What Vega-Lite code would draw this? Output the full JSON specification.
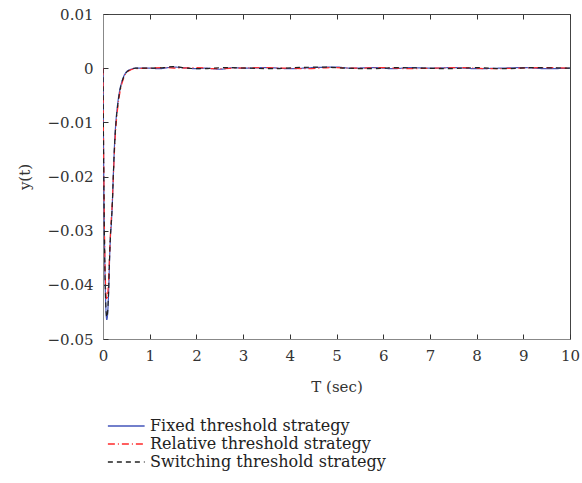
{
  "$schema": "https://vega.github.io/schema/vega-lite/v6.json",
  "autosize": {"type": "none"},
  "padding": {"left": 103, "top": 14, "right": 12, "bottom": 144},
  "width": 467,
  "height": 325,
  "background": "white",
  "config": {
    "font": "DejaVu Serif",
    "view": {"stroke": "#444", "strokeWidth": 1},
    "axis": {
      "labelFont": "DejaVu Serif",
      "titleFont": "DejaVu Serif",
      "labelFontSize": 15,
      "titleFontSize": 15,
      "labelColor": "#333",
      "titleColor": "#333",
      "titleFontWeight": "normal",
      "domainColor": "#888",
      "tickColor": "#333",
      "grid": false
    },
    "legend": {
      "labelFont": "DejaVu Serif", "labelFontSize": 16, "labelColor": "#222", "labelLimit": 500
    }
  },
  "datasets": {
    "series": [
      {"t": 0, "y": 0, "s": "Fixed threshold strategy"},
      {"t": 0.01, "y": -0.013, "s": "Fixed threshold strategy"},
      {"t": 0.02, "y": -0.023, "s": "Fixed threshold strategy"},
      {"t": 0.03, "y": -0.031, "s": "Fixed threshold strategy"},
      {"t": 0.04, "y": -0.037, "s": "Fixed threshold strategy"},
      {"t": 0.05, "y": -0.041, "s": "Fixed threshold strategy"},
      {"t": 0.06, "y": -0.044, "s": "Fixed threshold strategy"},
      {"t": 0.07, "y": -0.0457, "s": "Fixed threshold strategy"},
      {"t": 0.08, "y": -0.0464, "s": "Fixed threshold strategy"},
      {"t": 0.09, "y": -0.0462, "s": "Fixed threshold strategy"},
      {"t": 0.1, "y": -0.0452, "s": "Fixed threshold strategy"},
      {"t": 0.12, "y": -0.0415, "s": "Fixed threshold strategy"},
      {"t": 0.14, "y": -0.0355, "s": "Fixed threshold strategy"},
      {"t": 0.16, "y": -0.031, "s": "Fixed threshold strategy"},
      {"t": 0.18, "y": -0.0285, "s": "Fixed threshold strategy"},
      {"t": 0.2, "y": -0.025, "s": "Fixed threshold strategy"},
      {"t": 0.22, "y": -0.02, "s": "Fixed threshold strategy"},
      {"t": 0.25, "y": -0.0135, "s": "Fixed threshold strategy"},
      {"t": 0.28, "y": -0.0095, "s": "Fixed threshold strategy"},
      {"t": 0.32, "y": -0.0062, "s": "Fixed threshold strategy"},
      {"t": 0.36, "y": -0.004, "s": "Fixed threshold strategy"},
      {"t": 0.4, "y": -0.0026, "s": "Fixed threshold strategy"},
      {"t": 0.45, "y": -0.0014, "s": "Fixed threshold strategy"},
      {"t": 0.5, "y": -0.0007, "s": "Fixed threshold strategy"},
      {"t": 0.6, "y": -0.0002, "s": "Fixed threshold strategy"},
      {"t": 0.7, "y": 0, "s": "Fixed threshold strategy"},
      {"t": 1.0, "y": 0, "s": "Fixed threshold strategy"},
      {"t": 1.2, "y": -0.0001, "s": "Fixed threshold strategy"},
      {"t": 1.5, "y": 0.0002, "s": "Fixed threshold strategy"},
      {"t": 1.7, "y": 0.0001, "s": "Fixed threshold strategy"},
      {"t": 2.0, "y": -0.0001, "s": "Fixed threshold strategy"},
      {"t": 2.2, "y": 0, "s": "Fixed threshold strategy"},
      {"t": 2.5, "y": -0.0002, "s": "Fixed threshold strategy"},
      {"t": 2.8, "y": 0.0001, "s": "Fixed threshold strategy"},
      {"t": 3.0, "y": 0, "s": "Fixed threshold strategy"},
      {"t": 3.5, "y": 0.0001, "s": "Fixed threshold strategy"},
      {"t": 4.0, "y": -0.0001, "s": "Fixed threshold strategy"},
      {"t": 4.5, "y": 0.0001, "s": "Fixed threshold strategy"},
      {"t": 5.0, "y": 0.0002, "s": "Fixed threshold strategy"},
      {"t": 5.3, "y": 0, "s": "Fixed threshold strategy"},
      {"t": 5.8, "y": 0.0001, "s": "Fixed threshold strategy"},
      {"t": 6.2, "y": -0.0001, "s": "Fixed threshold strategy"},
      {"t": 6.6, "y": 0.0001, "s": "Fixed threshold strategy"},
      {"t": 7.0, "y": 0, "s": "Fixed threshold strategy"},
      {"t": 7.5, "y": 0.0001, "s": "Fixed threshold strategy"},
      {"t": 8.0, "y": -0.0001, "s": "Fixed threshold strategy"},
      {"t": 8.5, "y": 0, "s": "Fixed threshold strategy"},
      {"t": 9.0, "y": 0.0001, "s": "Fixed threshold strategy"},
      {"t": 9.5, "y": -0.0001, "s": "Fixed threshold strategy"},
      {"t": 10, "y": 0, "s": "Fixed threshold strategy"},

      {"t": 0, "y": 0, "s": "Relative threshold strategy"},
      {"t": 0.01, "y": -0.012, "s": "Relative threshold strategy"},
      {"t": 0.02, "y": -0.021, "s": "Relative threshold strategy"},
      {"t": 0.03, "y": -0.029, "s": "Relative threshold strategy"},
      {"t": 0.04, "y": -0.0345, "s": "Relative threshold strategy"},
      {"t": 0.05, "y": -0.0385, "s": "Relative threshold strategy"},
      {"t": 0.06, "y": -0.041, "s": "Relative threshold strategy"},
      {"t": 0.07, "y": -0.0423, "s": "Relative threshold strategy"},
      {"t": 0.08, "y": -0.0428, "s": "Relative threshold strategy"},
      {"t": 0.09, "y": -0.0426, "s": "Relative threshold strategy"},
      {"t": 0.1, "y": -0.0418, "s": "Relative threshold strategy"},
      {"t": 0.12, "y": -0.039, "s": "Relative threshold strategy"},
      {"t": 0.14, "y": -0.0345, "s": "Relative threshold strategy"},
      {"t": 0.16, "y": -0.0305, "s": "Relative threshold strategy"},
      {"t": 0.18, "y": -0.0275, "s": "Relative threshold strategy"},
      {"t": 0.2, "y": -0.0245, "s": "Relative threshold strategy"},
      {"t": 0.22, "y": -0.0205, "s": "Relative threshold strategy"},
      {"t": 0.25, "y": -0.0145, "s": "Relative threshold strategy"},
      {"t": 0.28, "y": -0.0105, "s": "Relative threshold strategy"},
      {"t": 0.32, "y": -0.007, "s": "Relative threshold strategy"},
      {"t": 0.36, "y": -0.0046, "s": "Relative threshold strategy"},
      {"t": 0.4, "y": -0.003, "s": "Relative threshold strategy"},
      {"t": 0.45, "y": -0.0017, "s": "Relative threshold strategy"},
      {"t": 0.5, "y": -0.0009, "s": "Relative threshold strategy"},
      {"t": 0.6, "y": -0.0003, "s": "Relative threshold strategy"},
      {"t": 0.7, "y": -0.0001, "s": "Relative threshold strategy"},
      {"t": 1.0, "y": 0, "s": "Relative threshold strategy"},
      {"t": 1.3, "y": 0.0001, "s": "Relative threshold strategy"},
      {"t": 1.6, "y": 0, "s": "Relative threshold strategy"},
      {"t": 2.0, "y": 0.0001, "s": "Relative threshold strategy"},
      {"t": 2.4, "y": -0.0001, "s": "Relative threshold strategy"},
      {"t": 2.9, "y": 0, "s": "Relative threshold strategy"},
      {"t": 3.4, "y": 0.0001, "s": "Relative threshold strategy"},
      {"t": 3.9, "y": 0, "s": "Relative threshold strategy"},
      {"t": 4.4, "y": -0.0001, "s": "Relative threshold strategy"},
      {"t": 4.9, "y": 0.0001, "s": "Relative threshold strategy"},
      {"t": 5.4, "y": 0, "s": "Relative threshold strategy"},
      {"t": 6.0, "y": 0.0001, "s": "Relative threshold strategy"},
      {"t": 6.5, "y": -0.0001, "s": "Relative threshold strategy"},
      {"t": 7.1, "y": 0, "s": "Relative threshold strategy"},
      {"t": 7.7, "y": 0.0001, "s": "Relative threshold strategy"},
      {"t": 8.3, "y": -0.0001, "s": "Relative threshold strategy"},
      {"t": 8.9, "y": 0, "s": "Relative threshold strategy"},
      {"t": 9.5, "y": 0.0001, "s": "Relative threshold strategy"},
      {"t": 10, "y": 0, "s": "Relative threshold strategy"},

      {"t": 0, "y": 0, "s": "Switching threshold strategy"},
      {"t": 0.01, "y": -0.0128, "s": "Switching threshold strategy"},
      {"t": 0.02, "y": -0.0228, "s": "Switching threshold strategy"},
      {"t": 0.03, "y": -0.0308, "s": "Switching threshold strategy"},
      {"t": 0.04, "y": -0.0368, "s": "Switching threshold strategy"},
      {"t": 0.05, "y": -0.0408, "s": "Switching threshold strategy"},
      {"t": 0.06, "y": -0.0437, "s": "Switching threshold strategy"},
      {"t": 0.07, "y": -0.0453, "s": "Switching threshold strategy"},
      {"t": 0.08, "y": -0.046, "s": "Switching threshold strategy"},
      {"t": 0.09, "y": -0.0459, "s": "Switching threshold strategy"},
      {"t": 0.1, "y": -0.0449, "s": "Switching threshold strategy"},
      {"t": 0.12, "y": -0.0412, "s": "Switching threshold strategy"},
      {"t": 0.14, "y": -0.0352, "s": "Switching threshold strategy"},
      {"t": 0.16, "y": -0.0308, "s": "Switching threshold strategy"},
      {"t": 0.18, "y": -0.0283, "s": "Switching threshold strategy"},
      {"t": 0.2, "y": -0.0249, "s": "Switching threshold strategy"},
      {"t": 0.22, "y": -0.0201, "s": "Switching threshold strategy"},
      {"t": 0.25, "y": -0.0138, "s": "Switching threshold strategy"},
      {"t": 0.28, "y": -0.0098, "s": "Switching threshold strategy"},
      {"t": 0.32, "y": -0.0065, "s": "Switching threshold strategy"},
      {"t": 0.36, "y": -0.0042, "s": "Switching threshold strategy"},
      {"t": 0.4, "y": -0.0027, "s": "Switching threshold strategy"},
      {"t": 0.45, "y": -0.0015, "s": "Switching threshold strategy"},
      {"t": 0.5, "y": -0.0008, "s": "Switching threshold strategy"},
      {"t": 0.6, "y": -0.0002, "s": "Switching threshold strategy"},
      {"t": 0.7, "y": 0, "s": "Switching threshold strategy"},
      {"t": 1.0, "y": 0, "s": "Switching threshold strategy"},
      {"t": 1.3, "y": 0.0001, "s": "Switching threshold strategy"},
      {"t": 1.5, "y": 0.0003, "s": "Switching threshold strategy"},
      {"t": 1.8, "y": 0, "s": "Switching threshold strategy"},
      {"t": 2.1, "y": -0.0001, "s": "Switching threshold strategy"},
      {"t": 2.6, "y": 0.0001, "s": "Switching threshold strategy"},
      {"t": 3.1, "y": 0, "s": "Switching threshold strategy"},
      {"t": 3.6, "y": -0.0001, "s": "Switching threshold strategy"},
      {"t": 4.1, "y": 0.0001, "s": "Switching threshold strategy"},
      {"t": 4.7, "y": 0.0002, "s": "Switching threshold strategy"},
      {"t": 5.2, "y": 0, "s": "Switching threshold strategy"},
      {"t": 5.7, "y": -0.0001, "s": "Switching threshold strategy"},
      {"t": 6.3, "y": 0.0001, "s": "Switching threshold strategy"},
      {"t": 6.9, "y": 0, "s": "Switching threshold strategy"},
      {"t": 7.4, "y": -0.0001, "s": "Switching threshold strategy"},
      {"t": 8.0, "y": 0.0001, "s": "Switching threshold strategy"},
      {"t": 8.6, "y": -0.0001, "s": "Switching threshold strategy"},
      {"t": 9.2, "y": 0.0001, "s": "Switching threshold strategy"},
      {"t": 10, "y": 0, "s": "Switching threshold strategy"}
    ]
  },
  "data": {"name": "series"},
  "layer": [
    {
      "mark": {"type": "line", "strokeWidth": 1.2, "interpolate": "monotone", "clip": true},
      "encoding": {
        "x": {
          "field": "t", "type": "quantitative",
          "scale": {"domain": [0, 10], "nice": false, "zero": false},
          "axis": {
            "orient": "bottom", "values": [0,1,2,3,4,5,6,7,8,9,10],
            "tickSize": -5, "labelPadding": 14, "title": "T (sec)", "titlePadding": 16,
            "labelFlush": false
          }
        },
        "y": {
          "field": "y", "type": "quantitative",
          "scale": {"domain": [-0.05, 0.01], "nice": false, "zero": false},
          "axis": {
            "values": [-0.05,-0.04,-0.03,-0.02,-0.01,0,0.01],
            "format": "~g",
            "tickSize": -5, "labelPadding": 15, "title": "y(t)", "titlePadding": 15,
            "labelFlush": false
          }
        },
        "color": {
          "field": "s", "type": "nominal",
          "scale": {
            "domain": ["Fixed threshold strategy", "Relative threshold strategy", "Switching threshold strategy"],
            "range": ["#4455bb", "#ff2a2a", "#222222"]
          },
          "legend": {
            "orient": "none", "legendX": 3, "legendY": 404, "title": null,
            "symbolType": "M-1,0H5", "symbolSize": 150, "symbolStrokeWidth": 1.4,
            "labelOffset": 28, "rowPadding": 2, "padding": 0, "labelLimit": 500
          }
        },
        "strokeDash": {
          "field": "s", "type": "nominal",
          "scale": {
            "domain": ["Fixed threshold strategy", "Relative threshold strategy", "Switching threshold strategy"],
            "range": [[1, 0], [7, 3, 1, 3], [5, 4]]
          },
          "legend": {
            "orient": "none", "legendX": 3, "legendY": 404, "title": null,
            "symbolType": "M-1,0H5", "symbolSize": 150, "symbolStrokeWidth": 1.4,
            "labelOffset": 28, "rowPadding": 2, "padding": 0, "labelLimit": 500
          }
        }
      }
    },
    {
      "mark": {"type": "rule", "opacity": 0},
      "encoding": {
        "x": {
          "datum": 0, "type": "quantitative",
          "axis": {
            "orient": "top", "values": [0,1,2,3,4,5,6,7,8,9,10],
            "tickSize": -5, "labels": false, "title": null, "domainColor": "#444"
          }
        }
      }
    }
  ],
  "resolve": {"axis": {"x": "independent"}}
}
